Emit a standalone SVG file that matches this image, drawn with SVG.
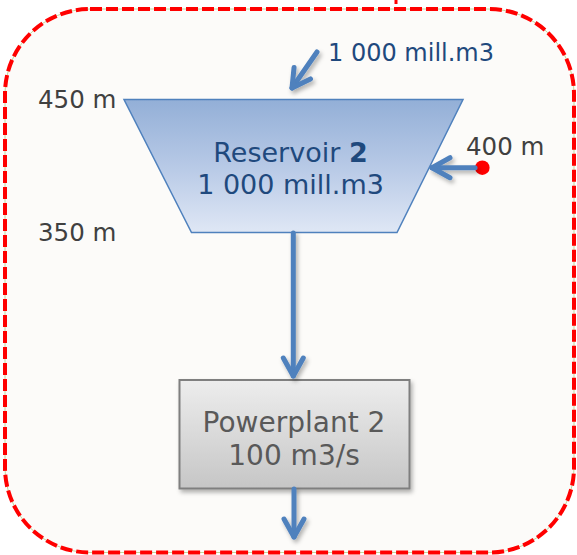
<svg xmlns="http://www.w3.org/2000/svg" width="577" height="555" viewBox="0 0 577 555">
<style>
.lbl{font-family:"DejaVu Sans","Verdana",sans-serif;font-size:24.5px;fill:#404040}
.res{font-family:"DejaVu Sans","Verdana",sans-serif;font-size:27px;fill:#1f497d;text-anchor:middle}
.pp{font-family:"DejaVu Sans","Verdana",sans-serif;font-size:28px;fill:#595959;text-anchor:middle}
.flow{fill:none;stroke:#4f81bd;stroke-width:5;stroke-linecap:round;stroke-linejoin:round}
</style>
<defs>
<linearGradient id="gRes" x1="0" y1="0" x2="0" y2="1">
<stop offset="0" stop-color="#93afd7"/>
<stop offset="0.5" stop-color="#b7c9e6"/>
<stop offset="1" stop-color="#dfe7f5"/>
</linearGradient>
<linearGradient id="gPP" x1="0" y1="0" x2="0" y2="1">
<stop offset="0" stop-color="#ededed"/>
<stop offset="1" stop-color="#c6c6c6"/>
</linearGradient>
<filter id="sh" x="-20%" y="-20%" width="150%" height="150%">
<feDropShadow dx="2" dy="3" stdDeviation="2" flood-color="#000" flood-opacity="0.3"/>
</filter>
<marker id="ah" markerUnits="userSpaceOnUse" markerWidth="30" markerHeight="30" refX="0" refY="0" viewBox="-25 -15 30 30" orient="auto" overflow="visible">
<path d="M-18,-10 L0,0 L-18,10" fill="none" stroke="#4f81bd" stroke-width="5" stroke-linecap="round" stroke-linejoin="round"/>
</marker>
</defs>
<g id="boundary">
<rect x="5" y="9" width="569" height="543.5" rx="85" ry="85" fill="#fcfbf9" stroke="#c3d69b" stroke-width="1"/>
<rect x="5" y="9" width="569" height="543.5" rx="85" ry="85" fill="none" stroke="#ff0000" stroke-width="4" stroke-dasharray="12 4"/>
<line x1="396" y1="0" x2="396" y2="4" stroke="#ff0000" stroke-width="3"/>
</g>
<g id="reservoir2">
<polygon points="124,99.5 463,99.5 397,232.5 191.5,232.5" fill="url(#gRes)" stroke="#4f81bd" stroke-width="1.5"/>
<text class="res" x="290.5" y="162">Reservoir <tspan font-weight="bold">2</tspan></text>
<text class="res" x="290.5" y="194">1 000 mill.m3</text>
</g>
<g id="powerplant2">
<rect x="179.5" y="380" width="230" height="108.5" fill="url(#gPP)" stroke="#7f7f7f" stroke-width="2" filter="url(#sh)"/>
<text class="pp" x="294" y="432">Powerplant 2</text>
<text class="pp" x="294" y="465">100 m3/s</text>
</g>
<g id="labels">
<text class="lbl" x="38" y="108">450 m</text>
<text class="lbl" x="38" y="241">350 m</text>
<text class="lbl" x="466" y="155">400 m</text>
<text x="328" y="61" style="font-family:'DejaVu Sans',Verdana,sans-serif;font-size:24px;fill:#1f497d">1 000 mill.m3</text>
</g>
<g id="inflow-source">
<circle cx="482.3" cy="167.7" r="7.3" fill="#ff0000"/>
</g>
<g id="connectors" filter="url(#sh)">
<line class="flow" x1="317" y1="52" x2="292" y2="88" marker-end="url(#ah)"/>
<line class="flow" x1="475" y1="167.7" x2="432" y2="167.7" marker-end="url(#ah)"/>
<line class="flow" x1="293.3" y1="233" x2="293.3" y2="376" marker-end="url(#ah)"/>
<line class="flow" x1="294" y1="489" x2="294" y2="537" marker-end="url(#ah)"/>
</g>
</svg>
